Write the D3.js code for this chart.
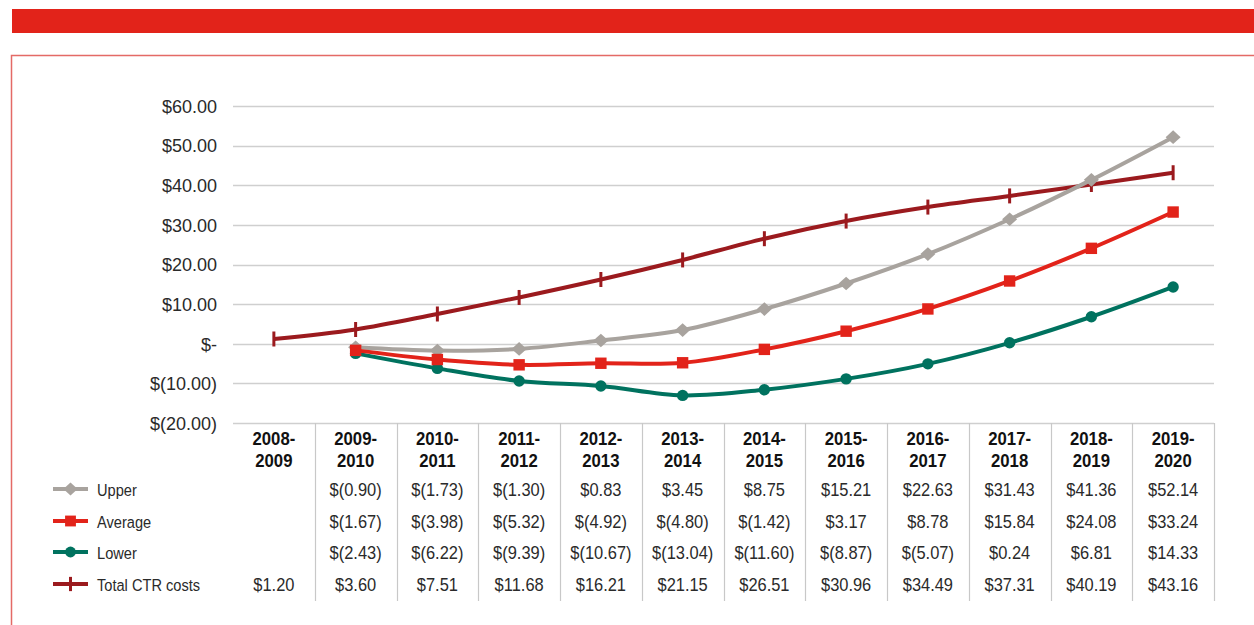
<!DOCTYPE html>
<html><head><meta charset="utf-8">
<script src="https://cdn.jsdelivr.net/npm/d3@7"></script>
<style>html,body{margin:0;padding:0;background:#fff;}svg{display:block;}</style>
</head><body>
<svg id="c" width="1254" height="625"></svg>
<script>
const categories = ["2008-2009","2009-2010","2010-2011","2011-2012","2012-2013","2013-2014","2014-2015","2015-2016","2016-2017","2017-2018","2018-2019","2019-2020"];
const upper   = [null,-0.90,-1.73,-1.30,0.83,3.45,8.75,15.21,22.63,31.43,41.36,52.14];
const average = [null,-1.67,-3.98,-5.32,-4.92,-4.80,-1.42,3.17,8.78,15.84,24.08,33.24];
const lower   = [null,-2.43,-6.22,-9.39,-10.67,-13.04,-11.60,-8.87,-5.07,0.24,6.81,14.33];
const total   = [1.20,3.60,7.51,11.68,16.21,21.15,26.51,30.96,34.49,37.31,40.19,43.16];
const yTicks  = [-20,-10,0,10,20,30,40,50,60];
const seriesNames = ["Upper","Average","Lower","Total CTR costs"];

(function(){
const svg = d3.select("#c");
const W = 1254, H = 625;
const pLeft = 233, pRight = 1214, pTop = 106, pBottom = 423;
const FONT = "'Liberation Sans', Arial, sans-serif";

// frame
svg.append("rect").attr("x",12).attr("y",9).attr("width",W-12).attr("height",24).attr("fill","#e2231a");
svg.append("path").attr("d",`M11.5,${H} V55.5 H${W}`).attr("fill","none").attr("stroke","#e46a66").attr("stroke-width",1.5);

const x = d3.scaleBand().domain(categories).range([pLeft,pRight]).padding(0);
const y = d3.scaleLinear().domain([-20,60]).range([pBottom,pTop]);
const fmt = v => v === 0 ? "$-" : (v < 0 ? "$(" + Math.abs(v).toFixed(2) + ")" : "$" + v.toFixed(2));

// gridlines
svg.append("g").selectAll("line").data(yTicks).join("line")
  .attr("x1",pLeft).attr("x2",pRight)
  .attr("y1",d=>Math.round(y(d))+0.5).attr("y2",d=>Math.round(y(d))+0.5)
  .attr("stroke","#cfcfcf").attr("stroke-width",1.5);

// y axis labels
const yAxis = d3.axisLeft(y).tickValues(yTicks).tickFormat(fmt).tickSize(0).tickPadding(0);
const ga = svg.append("g").attr("transform",`translate(217,0)`).call(yAxis);
ga.select(".domain").remove();
ga.selectAll("text").attr("font-family",FONT).attr("font-size","18px").attr("fill","#2a2a2a").attr("dy","0.35em");

// table vertical lines
svg.append("g").selectAll("line").data(categories).join("line")
  .attr("x1",d=>Math.round(x(d)+x.bandwidth())+0.5).attr("x2",d=>Math.round(x(d)+x.bandwidth())+0.5)
  .attr("y1",pBottom).attr("y2",601).attr("stroke","#c8c8c8").attr("stroke-width",1.2);

function sText(g, tx, ty, sx, str, anchor){
  g.append("text").attr("transform",`translate(${tx},${ty}) scale(${sx},1)`).attr("text-anchor",anchor).text(str);
}

// headers
const hdr = svg.append("g").attr("font-family",FONT).attr("font-weight","bold").attr("font-size","18px").attr("fill","#111");
categories.forEach(c=>{
  const [a,b] = c.split("-");
  const cx = x(c)+x.bandwidth()/2;
  sText(hdr, cx, 445, 0.93, a+"-", "middle");
  sText(hdr, cx, 467, 0.93, b, "middle");
});

const colors = ["#a8a39e","#e2231a","#00725f","#9b1a1e"];
const allSeries = [upper,average,lower,total];
const rowY = [489,521,552,584];

function drawMarker(g, i, cx, cy, scale){
  const s = scale||1;
  if(i===0){
    g.append("path").attr("d",`M${cx},${cy-6.8*s} L${cx+7.5*s},${cy} L${cx},${cy+6.8*s} L${cx-7.5*s},${cy} Z`).attr("fill",colors[0]);
  } else if(i===1){
    g.append("rect").attr("x",cx-5.7*s).attr("y",cy-5.7*s).attr("width",11.4*s).attr("height",11.4*s).attr("fill",colors[1]);
  } else if(i===2){
    g.append("circle").attr("cx",cx).attr("cy",cy).attr("r",5.7*s).attr("fill",colors[2]);
  } else {
    g.append("line").attr("x1",cx).attr("x2",cx).attr("y1",cy-7.5*s).attr("y2",cy+7.5*s).attr("stroke",colors[3]).attr("stroke-width",3);
  }
}

// lines
const line = d3.line().defined(d=>d.v!==null).x(d=>x(d.c)+x.bandwidth()/2).y(d=>y(d.v)).curve(d3.curveCatmullRom.alpha(0.5));
const order = [3,0,2,1];
order.forEach(i=>{
  const data = categories.map((c,k)=>({c:c,v:allSeries[i][k]}));
  const g = svg.append("g");
  g.append("path").datum(data).attr("d",line).attr("fill","none").attr("stroke",colors[i]).attr("stroke-width",4).attr("stroke-linejoin","round");
  data.filter(d=>d.v!==null).forEach(d=>drawMarker(g,i,x(d.c)+x.bandwidth()/2,y(d.v)));
});

// table rows
const tbl = svg.append("g").attr("font-family",FONT).attr("font-size","17.5px").attr("fill","#2a2a2a");
const lbl = svg.append("g").attr("font-family",FONT).attr("font-size","17px").attr("fill","#2a2a2a");
allSeries.forEach((s,i)=>{
  const cy = rowY[i];
  const lg = svg.append("g");
  lg.append("line").attr("x1",53).attr("x2",88).attr("y1",cy).attr("y2",cy).attr("stroke",colors[i]).attr("stroke-width",4);
  drawMarker(lg,i,70.5,cy,0.95);
  sText(lbl, 97, cy+6.5, 0.86, seriesNames[i], "start");
  s.forEach((v,k)=>{
    if(v===null) return;
    sText(tbl, x(categories[k])+x.bandwidth()/2, cy+6.5, 0.94, fmt(v), "middle");
  });
});
})();
</script>
</body></html>
